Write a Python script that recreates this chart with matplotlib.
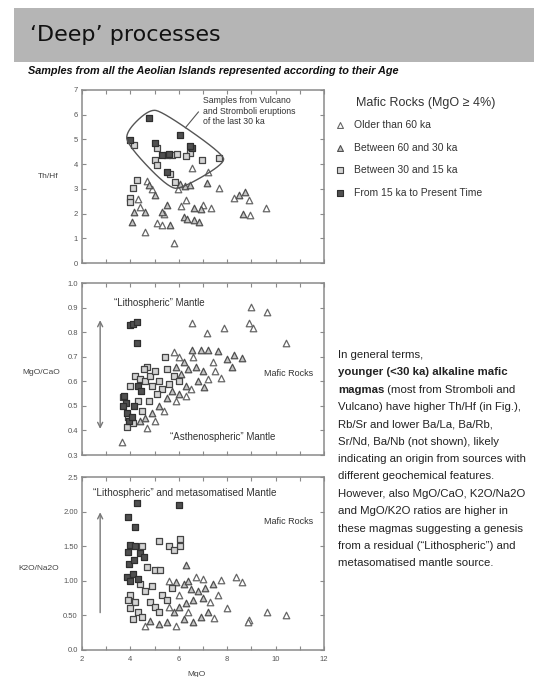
import matplotlib
matplotlib.use("Agg")
import matplotlib.pyplot as plt
import numpy as np
from matplotlib.patches import Rectangle, Polygon

plt.rcParams["font.family"] = ["Liberation Sans", "DejaVu Sans"]

W, H = 534, 677

# ---- data: MgO (wt%) and element ratios, by age group ----
# Th/Hf
thhf_old_mgo = [4.61, 5.79, 5.1, 5.3, 7.31, 7.66, 6.55, 7.2, 8.28, 8.9, 8.95, 9.59, 4.7, 4.9, 5.95, 6.3, 7.0, 6.1, 5.4, 4.3, 4.4]
thhf_old_val = [1.26, 0.79, 1.6, 1.55, 2.21, 3.02, 3.83, 3.7, 2.61, 2.55, 1.95, 2.21, 3.3, 3.0, 3.0, 2.55, 2.35, 2.3, 2.0, 2.6, 2.25]
thhf_mid_mgo = [6.05, 6.25, 6.45, 4.75, 5.03, 5.3, 5.5, 5.65, 6.2, 6.35, 6.62, 6.83, 4.61, 4.13, 4.06, 6.62, 6.9, 7.17, 8.72, 8.5, 8.65]
thhf_mid_val = [3.2, 3.1, 3.15, 3.15, 2.75, 2.07, 2.35, 1.53, 1.87, 1.8, 1.75, 1.67, 2.07, 2.07, 1.67, 2.21, 2.2, 3.22, 2.88, 2.75, 2.0]
thhf_young_mgo = [4.15, 5.1, 5.51, 5.72, 5.93, 6.48, 6.97, 7.66, 5.03, 5.1, 5.65, 5.86, 4.27, 4.1, 3.99, 4.0, 6.3]
thhf_young_val = [4.78, 4.64, 4.37, 4.37, 4.4, 4.44, 4.17, 4.23, 4.17, 3.98, 3.62, 3.29, 3.36, 3.05, 2.65, 2.45, 4.32]
thhf_recent_mgo = [4.75, 5.03, 5.3, 6.07, 6.55, 5.51, 4.0, 5.6, 6.45]
thhf_recent_val = [5.85, 4.84, 4.37, 5.18, 4.64, 3.69, 4.98, 4.4, 4.75]

# MgO/CaO
mgca_old_mgo = [3.65, 6.55, 7.17, 7.86, 8.97, 9.66, 8.9, 9.05, 10.42, 7.73, 6.0, 5.8, 7.4, 6.6, 5.4, 5.9, 6.3, 7.2, 4.7, 5.0, 6.5, 7.5]
mgca_old_val = [0.354, 0.836, 0.795, 0.815, 0.904, 0.883, 0.836, 0.815, 0.754, 0.612, 0.70, 0.72, 0.68, 0.70, 0.48, 0.52, 0.54, 0.61, 0.41, 0.44, 0.57, 0.64]
mgca_mid_mgo = [6.55, 6.9, 7.2, 7.6, 8.0, 8.3, 8.6, 8.21, 6.2, 6.4, 6.7, 7.0, 6.8, 7.03, 6.1, 5.9, 5.5, 5.2, 4.9, 4.6, 4.4, 6.3, 5.7, 6.0]
mgca_mid_val = [0.727, 0.727, 0.727, 0.725, 0.69, 0.705, 0.695, 0.658, 0.68, 0.65, 0.66, 0.64, 0.60, 0.578, 0.63, 0.66, 0.53, 0.50, 0.47, 0.45, 0.44, 0.58, 0.56, 0.55]
mgca_young_mgo = [5.44, 4.68, 4.55, 4.2, 3.7, 3.92, 3.85, 4.4, 4.6, 4.8, 4.9, 5.0, 5.2, 5.3, 5.6, 5.8, 5.1, 4.3, 4.5, 4.0, 4.1, 5.5, 6.0, 4.75]
mgca_young_val = [0.70, 0.66, 0.65, 0.62, 0.537, 0.456, 0.415, 0.61, 0.60, 0.62, 0.58, 0.64, 0.60, 0.57, 0.59, 0.62, 0.55, 0.52, 0.48, 0.58, 0.43, 0.65, 0.60, 0.52]
mgca_recent_mgo = [3.99, 4.12, 4.27, 4.27, 3.75, 3.8, 3.85, 3.95, 4.05, 4.15, 4.3, 4.45, 3.7]
mgca_recent_val = [0.83, 0.835, 0.843, 0.754, 0.54, 0.51, 0.47, 0.44, 0.455, 0.50, 0.58, 0.56, 0.50]

# K2O/Na2O
kna_old_mgo = [7.73, 8.35, 8.6, 8.0, 7.45, 8.9, 8.84, 9.66, 10.42, 7.0, 6.7, 5.6, 6.0, 6.4, 5.6, 7.6, 4.6, 5.9, 7.3]
kna_old_val = [1.01, 1.06, 0.98, 0.60, 0.46, 0.43, 0.41, 0.55, 0.50, 1.02, 1.05, 1.0, 0.80, 0.55, 0.62, 0.80, 0.35, 0.35, 0.70]
kna_mid_mgo = [6.28, 5.9, 6.2, 6.5, 6.8, 7.1, 7.0, 6.6, 6.3, 6.0, 5.8, 6.2, 6.6, 6.9, 7.2, 5.5, 5.2, 4.8, 6.4, 7.4]
kna_mid_val = [1.23, 0.98, 0.95, 0.88, 0.85, 0.90, 0.75, 0.72, 0.68, 0.62, 0.55, 0.45, 0.40, 0.48, 0.55, 0.40, 0.38, 0.42, 1.0, 0.95]
kna_young_mgo = [5.17, 5.6, 6.07, 6.07, 5.8, 4.5, 4.7, 5.0, 5.23, 4.4, 4.6, 4.0, 4.2, 4.0, 4.3, 4.5, 4.1, 4.8, 5.0, 5.3, 5.5, 5.2, 5.7, 4.9, 3.9]
kna_young_val = [1.57, 1.50, 1.61, 1.50, 1.45, 1.50, 1.20, 1.16, 1.16, 0.95, 0.85, 0.80, 0.70, 0.60, 0.55, 0.48, 0.45, 0.70, 0.62, 0.80, 0.72, 0.55, 0.90, 0.92, 0.72]
kna_recent_mgo = [4.27, 6.0, 3.92, 4.2, 3.99, 4.2, 3.9, 4.4, 4.55, 3.85, 4.0, 4.1, 4.3, 3.95, 4.15]
kna_recent_val = [2.12, 2.10, 1.92, 1.78, 1.52, 1.50, 1.42, 1.40, 1.35, 1.05, 1.0, 1.1, 1.02, 1.25, 1.30]

age_labels = ["Older than 60 ka", "Between 60 and 30 ka",
              "Between 30 and 15 ka", "From 15 ka to Present Time"]

# outline around the young Vulcano / Stromboli samples (MgO, Th/Hf)
envelope_mgo = [3.85, 4.75, 5.3, 7.85, 7.85, 6.2, 5.6, 3.85]
envelope_thhf = [5.35, 6.2, 6.15, 4.4, 4.0, 3.05, 3.0, 4.8]

paragraph = [
    [("In general terms,", "normal")],
    [("younger (<30 ka) alkaline mafic", "bold")],
    [("magmas", "bold"), (" (most from Stromboli and", "normal")],
    [("Vulcano) have higher Th/Hf (in Fig.),", "normal")],
    [("Rb/Sr and lower Ba/La, Ba/Rb,", "normal")],
    [("Sr/Nd, Ba/Nb (not shown), likely", "normal")],
    [("indicating an origin from sources with", "normal")],
    [("different geochemical features.", "normal")],
    [("However, also MgO/CaO, K2O/Na2O", "normal")],
    [("and MgO/K2O ratios are higher in", "normal")],
    [("these magmas suggesting a genesis", "normal")],
    [("from a residual (\u201cLithospheric\u201d) and", "normal")],
    [("metasomatised mantle source.", "normal")],
]

# marker styles for the four age groups
styles = [
    dict(marker="^", facecolor="white", edgecolor="#666666"),
    dict(marker="^", facecolor="#c4c4c4", edgecolor="#505050"),
    dict(marker="s", facecolor="#d4d4d4", edgecolor="#444444"),
    dict(marker="s", facecolor="#505050", edgecolor="#2e2e2e"),
]

fig = plt.figure(figsize=(W / 100, H / 100), dpi=100)

# full-page axes in pixel units for the slide decoration
page = fig.add_axes([0, 0, 1, 1])
page.set_xlim(0, W)
page.set_ylim(H, 0)
page.axis("off")

page.add_patch(Rectangle((14, 8), W - 14, 54, facecolor="#b5b5b5", edgecolor="none"))
page.text(30, 35, "\u2018Deep\u2019 processes", fontsize=16, family="DejaVu Sans",
          color="#111111", va="center", ha="left")
page.text(28, 71, "Samples from all the Aeolian Islands represented according to their Age",
          fontsize=7.8, fontweight="bold", fontstyle="italic", color="#111111",
          va="center", ha="left")


def panel(top, bottom, left=82, right=324):
    ax = fig.add_axes([left / W, 1 - bottom / H, (right - left) / W, (bottom - top) / H])
    ax.set_xlim(2, 12)
    ax.set_xticks(np.arange(2, 13, 2))
    ax.set_xticks(np.arange(3, 12, 2), minor=True)
    for s in ax.spines.values():
        s.set_color("#8a8a8a")
        s.set_linewidth(1.1)
    ax.tick_params(which="both", direction="in", top=True, right=True,
                   length=3, width=0.8, color="#8a8a8a",
                   labelsize=5.5, labelcolor="#555555", pad=3)
    return ax


def scatter_groups(ax, groups):
    for (xs, ys), st in zip(groups, styles):
        ax.scatter(xs, ys, s=22, linewidths=0.9, zorder=3, **st)


def chaikin(pts, n=3):
    pts = np.asarray(pts, dtype=float)
    for _ in range(n):
        nxt = np.roll(pts, -1, axis=0)
        pts = np.column_stack([0.75 * pts + 0.25 * nxt, 0.25 * pts + 0.75 * nxt]).reshape(-1, 2)
    return pts


# Th/Hf vs MgO
ax1 = panel(90, 263)
scatter_groups(ax1, [(thhf_old_mgo, thhf_old_val), (thhf_mid_mgo, thhf_mid_val),
                     (thhf_young_mgo, thhf_young_val), (thhf_recent_mgo, thhf_recent_val)])
ax1.set_ylim(0, 7)
ax1.set_yticks(range(0, 8))
ax1.tick_params(axis="x", labelbottom=False)
ring = chaikin(np.column_stack([envelope_mgo, envelope_thhf]))
ax1.add_patch(Polygon(ring, closed=True, fill=False, edgecolor="#555555", linewidth=1.0, zorder=4))
ax1.plot([6.81, 6.27], [6.11, 5.47], color="#555555", linewidth=0.8, zorder=4)
ax1.text(7.0, 6.75, "Samples from Vulcano\nand Stromboli eruptions\nof the last 30 ka",
         fontsize=6.3, color="#333333", va="top", ha="left", linespacing=1.2)

# MgO/CaO vs MgO
ax2 = panel(283, 455)
scatter_groups(ax2, [(mgca_old_mgo, mgca_old_val), (mgca_mid_mgo, mgca_mid_val),
                     (mgca_young_mgo, mgca_young_val), (mgca_recent_mgo, mgca_recent_val)])
ax2.set_ylim(0.3, 1.0)
ax2.set_yticks(np.round(np.arange(0.3, 1.01, 0.1), 1))
ax2.tick_params(axis="x", labelbottom=False)
ax2.annotate("", xy=(2.75, 0.86), xytext=(2.75, 0.395),
             arrowprops=dict(arrowstyle="<->", color="#777777", lw=1.0, mutation_scale=9))
ax2.text(5.2, 0.92, "\u201cLithospheric\u201d Mantle", fontsize=7, color="#333333",
         ha="center", va="center")
ax2.text(7.8, 0.375, "\u201cAsthenospheric\u201d Mantle", fontsize=7, color="#333333",
         ha="center", va="center")
ax2.text(10.55, 0.63, "Mafic Rocks", fontsize=6.5, color="#333333", ha="center", va="center")

# K2O/Na2O vs MgO
ax3 = panel(477, 650)
scatter_groups(ax3, [(kna_old_mgo, kna_old_val), (kna_mid_mgo, kna_mid_val),
                     (kna_young_mgo, kna_young_val), (kna_recent_mgo, kna_recent_val)])
ax3.set_ylim(0, 2.5)
ax3.set_yticks(np.arange(0, 2.51, 0.5))
ax3.set_yticklabels(["0.0", "0.50", "1.00", "1.50", "2.00", "2.5"])
ax3.tick_params(axis="x", pad=4)
ax3.annotate("", xy=(2.75, 2.03), xytext=(2.75, 0.5),
             arrowprops=dict(arrowstyle="->", color="#777777", lw=1.0, mutation_scale=9))
ax3.text(2.45, 2.27, "\u201cLithospheric\u201d and metasomatised Mantle", fontsize=7.2,
         color="#333333", ha="left", va="center")
ax3.text(10.55, 1.85, "Mafic Rocks", fontsize=6.5, color="#333333", ha="center", va="center")

# axis titles, written horizontally beside the panels
page.text(48, 177, "Th/Hf", fontsize=6, color="#444444", ha="center", va="center")
page.text(41, 373, "MgO/CaO", fontsize=6, color="#444444", ha="center", va="center")
page.text(39, 568, "K2O/Na2O", fontsize=6, color="#444444", ha="center", va="center")
page.text(197, 674, "MgO", fontsize=6, color="#444444", ha="center", va="center")

# legend for the age groups
page.text(356, 103, "Mafic Rocks (MgO \u2265 4%)", fontsize=9, color="#333333",
          ha="left", va="center")
for k, (label, st) in enumerate(zip(age_labels, styles)):
    yy = 125 + k * 22.7
    page.scatter([340], [yy], s=18, linewidths=0.8, **st)
    page.text(354, yy, label, fontsize=7.5, color="#333333", ha="left", va="center")

# explanatory paragraph, bold where the text is emphasised
renderer = fig.canvas.get_renderer()
for i, pieces in enumerate(paragraph):
    x = 338
    y = 355 + i * 17.35
    for txt, weight in pieces:
        t = page.text(x, y, txt, fontsize=8.2, fontweight=weight, color="#222222",
                      ha="left", va="center")
        x += t.get_window_extent(renderer=renderer).width

fig.savefig("out.png", dpi=100)
